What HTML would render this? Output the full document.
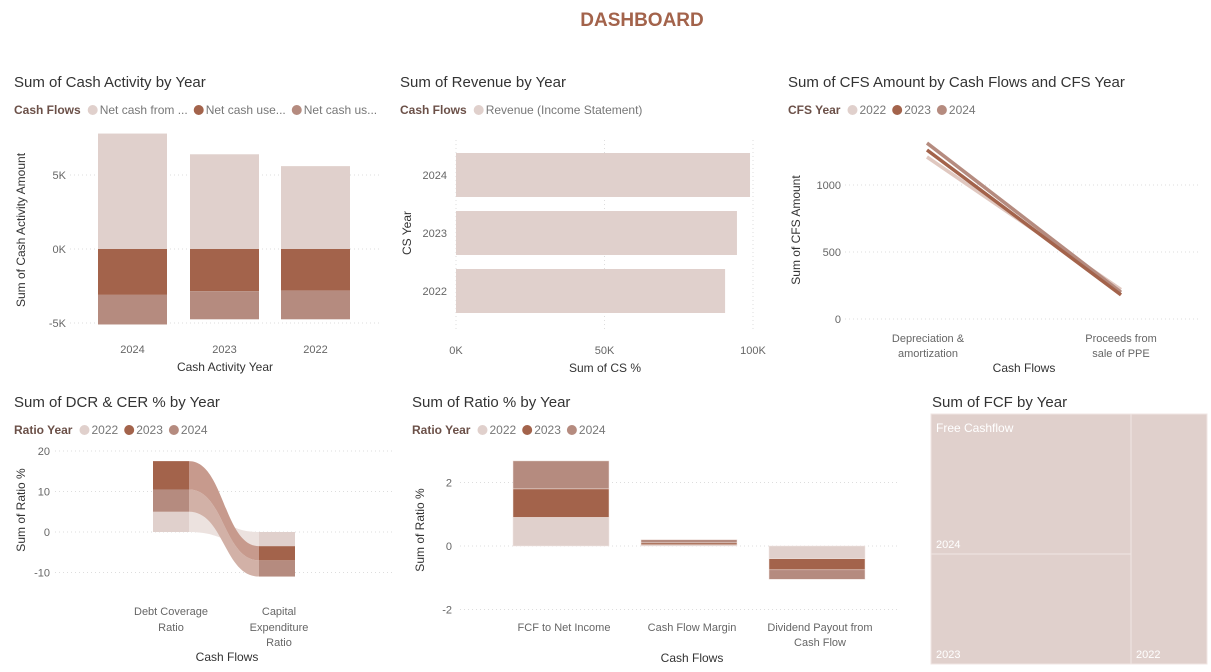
<!DOCTYPE html>
<html><head><meta charset="utf-8">
<style>
body{margin:0;background:#fff;font-family:"Liberation Sans",sans-serif;}
svg text{font-family:"Liberation Sans",sans-serif;}
</style></head>
<body>
<svg id="s" width="1211" height="667" viewBox="0 0 1211 667">
<text x="642" y="26" text-anchor="middle" font-size="19" font-weight="bold" fill="#a3634b">DASHBOARD</text>
</svg>
<script>
const L='#e0d0cc',D='#a3634b',M='#b58b7f';
// Chart 1 data
const c1Years=['2024','2023','2022'];
const c1NetFrom=[7.8,6.4,5.6];
const c1NetUse1=[-3.1,-2.85,-2.8];
const c1NetUse2=[-2.0,-1.9,-1.95];
// Chart 2 data
const c2Years=['2024','2023','2022'];
const c2Revenue=[99,94.6,90.6];
// Chart 3 data
const c3Cats=['Depreciation & amortization','Proceeds from sale of PPE'];
const c3S2022=[1209,220];
const c3S2023=[1261,180];
const c3S2024=[1313,200];
// Chart 4 data
const c4Cats=['Debt Coverage Ratio','Capital Expenditure Ratio'];
const c4S2022=[5,-3.5];
const c4S2023=[7,-3.5];
const c4S2024=[5.5,-4];
// Chart 5 data
const c5Cats=['FCF to Net Income','Cash Flow Margin','Dividend Payout from Cash Flow'];
const c5S2022=[0.9,0.04,-0.4];
const c5S2023=[0.9,0.06,-0.35];
const c5S2024=[0.88,0.1,-0.3];
// Chart 6 data
const c6Years=['2024','2023','2022'];
const c6Values=[28000,22000,19000];

const svg=document.getElementById('s');
const NS='http://www.w3.org/2000/svg';
function el(tag,attrs,parent){const e=document.createElementNS(NS,tag);for(const k in attrs)e.setAttribute(k,attrs[k]);(parent||svg).appendChild(e);return e;}
function txt(x,y,s,size,fill,anchor,parent,weight){const t=el('text',{x:x,y:y,'font-size':size,fill:fill,'text-anchor':anchor||'start'},parent);if(weight)t.setAttribute('font-weight',weight);t.textContent=s;return t;}
function grid(x1,x2,y,g){el('line',{x1:x1,x2:x2,y1:y,y2:y,stroke:'#ddd','stroke-dasharray':'1,3'},g);}
function legend(x,y,title,items,g){const t=txt(x,y,title,12,'#6b5048','start',g,'bold');let cx=x+t.getComputedTextLength()+7;items.forEach(it=>{const c=el('circle',{cx:cx+5,cy:y-4,r:5,fill:it[1]},g);const tt=txt(cx+12,y,it[0],12,'#777','start',g);cx+=12+tt.getComputedTextLength()+6;});}
function group(name){const g=el('g',{});return g;}
function vlabel(x,y,s,g){const t=txt(x,y,s,12,'#333','middle',g);t.setAttribute('transform','rotate(-90 '+x+' '+y+')');return t;}

// ---- Chart 1
(function(){const g=group('cash-activity-chart');
txt(14,87,'Sum of Cash Activity by Year',15,'#333','start',g);
legend(14,114,'Cash Flows',[['Net cash from ...',L],['Net cash use...',D],['Net cash us...',M]],g);
const y=v=>249-v*14.8;const xs=[98,190,281],w=69;
[5,0,-5].forEach(v=>{grid(70,380,y(v),g);txt(66,y(v)+4,v+'K',11,'#666','end',g);});
c1Years.forEach((yr,i)=>{
 let r=el('rect',{x:xs[i],y:y(c1NetFrom[i]),width:w,height:y(0)-y(c1NetFrom[i]),fill:L},g);
 r=el('rect',{x:xs[i],y:y(0),width:w,height:y(c1NetUse1[i])-y(0),fill:D},g);
 const b=c1NetUse1[i]+c1NetUse2[i];
 r=el('rect',{x:xs[i],y:y(c1NetUse1[i]),width:w,height:y(b)-y(c1NetUse1[i]),fill:M},g);
 txt(xs[i]+w/2,353,yr,11,'#666','middle',g);});
txt(225,371,'Cash Activity Year',12,'#333','middle',g);vlabel(25,230,'Sum of Cash Activity Amount',g);
})();

// ---- Chart 2
(function(){const g=group('revenue-chart');
txt(400,87,'Sum of Revenue by Year',15,'#333','start',g);
legend(400,114,'Cash Flows',[['Revenue (Income Statement)',L]],g);
const x=v=>456+v*2.97;const ys=[153,211,269],h=44;
[0,50,100].forEach(v=>{el('line',{x1:x(v),x2:x(v),y1:140,y2:330,stroke:'#ddd','stroke-dasharray':'1,3'},g);txt(x(v),354,v+'K',11,'#666','middle',g);});
c2Years.forEach((yr,i)=>{const r=el('rect',{x:x(0),y:ys[i],width:x(c2Revenue[i])-x(0),height:h,fill:L},g);txt(447,ys[i]+26,yr,11,'#666','end',g);});
txt(605,372,'Sum of CS %',12,'#333','middle',g);vlabel(411,233,'CS Year',g);
})();

// ---- Chart 3
(function(){const g=group('cfs-amount-chart');
txt(788,87,'Sum of CFS Amount by Cash Flows and CFS Year',15,'#333','start',g);
legend(788,114,'CFS Year',[['2022',L],['2023',D],['2024',M]],g);
const y=v=>319-v*0.134;const xs=[927,1121];
[0,500,1000].forEach(v=>{grid(845,1198,y(v),g);txt(841,y(v)+4,v,11,'#666','end',g);});
[[c3S2022,'#e0c8c0','2022'],[c3S2024,M,'2024'],[c3S2023,D,'2023']].forEach(s=>{const l=el('line',{x1:xs[0],y1:y(s[0][0]),x2:xs[1],y2:y(s[0][1]),stroke:s[1],'stroke-width':3.5},g);});
txt(928,342,'Depreciation &',11,'#666','middle',g);txt(928,357,'amortization',11,'#666','middle',g);
txt(1121,342,'Proceeds from',11,'#666','middle',g);txt(1121,357,'sale of PPE',11,'#666','middle',g);
txt(1024,372,'Cash Flows',12,'#333','middle',g);vlabel(800,230,'Sum of CFS Amount',g);
})();

// ---- Chart 4 (ribbon)
(function(){const g=group('dcr-cer-chart');
txt(14,407,'Sum of DCR & CER % by Year',15,'#333','start',g);
legend(14,434,'Ratio Year',[['2022',L],['2023',D],['2024',M]],g);
const y=v=>532-v*4.05;
[20,10,0,-10].forEach(v=>{grid(55,395,y(v),g);txt(50,y(v)+4,v,11,'#666','end',g);});
const years=['2022','2023','2024'],cols={'2022':L,'2023':D,'2024':M},rib={'2022':'#ece2df','2023':'#c79a8d','2024':'#d2b1a7'};
const vals=[[c4S2022[0],c4S2023[0],c4S2024[0]],[c4S2022[1],c4S2023[1],c4S2024[1]]];
const pos=[{},{}];let acc=0;[0,2,1].forEach(k=>{pos[0][k]=[acc,acc+vals[0][k]];acc+=vals[0][k];});
acc=0;[0,1,2].forEach(k=>{pos[1][k]=[acc,acc+vals[1][k]];acc+=vals[1][k];});
const bx=[153,259],bw=36;
[0,2,1].forEach(k=>{const a=pos[0][k],b=pos[1][k];const x1=bx[0]+bw,x2=bx[1],mx=(x1+x2)/2;
 const d='M'+x1+','+y(a[1])+' C'+mx+','+y(a[1])+' '+mx+','+y(b[0])+' '+x2+','+y(b[0])+' L'+x2+','+y(b[1])+' C'+mx+','+y(b[1])+' '+mx+','+y(a[0])+' '+x1+','+y(a[0])+'Z';
 const p=el('path',{d:d,fill:rib[years[k]]},g);});
[0,1].forEach(c=>{[0,1,2].forEach(k=>{const a=pos[c][k];const r=el('rect',{x:bx[c],y:y(Math.max(a[0],a[1])),width:bw,height:Math.abs(y(a[0])-y(a[1])),fill:cols[years[k]]},g);});});
txt(171,615,'Debt Coverage',11,'#666','middle',g);txt(171,631,'Ratio',11,'#666','middle',g);
txt(279,615,'Capital',11,'#666','middle',g);txt(279,631,'Expenditure',11,'#666','middle',g);txt(279,646,'Ratio',11,'#666','middle',g);
txt(227,661,'Cash Flows',12,'#333','middle',g);vlabel(25,510,'Sum of Ratio %',g);
})();

// ---- Chart 5
(function(){const g=group('ratio-chart');
txt(412,407,'Sum of Ratio % by Year',15,'#333','start',g);
legend(412,434,'Ratio Year',[['2022',L],['2023',D],['2024',M]],g);
const y=v=>546-v*31.75;
[2,0,-2].forEach(v=>{grid(460,900,y(v),g);txt(452,y(v)+4,v,11,'#666','end',g);});
const xs=[513,641,769],w=96;
c5Cats.forEach((c,i)=>{let acc=0;[[c5S2022,L,'2022'],[c5S2023,D,'2023'],[c5S2024,M,'2024']].forEach(s=>{const v=s[0][i];const a=acc,b=acc+v;acc=b;const r=el('rect',{x:xs[i],y:y(Math.max(a,b)),width:w,height:Math.abs(y(a)-y(b)),fill:s[1],stroke:'#f2e6e2','stroke-width':0.5},g);});});
txt(564,631,'FCF to Net Income',11,'#666','middle',g);txt(692,631,'Cash Flow Margin',11,'#666','middle',g);
txt(820,631,'Dividend Payout from',11,'#666','middle',g);txt(820,646,'Cash Flow',11,'#666','middle',g);
txt(692,662,'Cash Flows',12,'#333','middle',g);vlabel(424,530,'Sum of Ratio %',g);
})();

// ---- Chart 6 treemap
(function(){const g=group('fcf-treemap');
txt(932,407,'Sum of FCF by Year',15,'#333','start',g);
const X=931,Y=414,W=276,H=250;const tot=c6Values.reduce((a,b)=>a+b,0);
const w1=W*(c6Values[0]+c6Values[1])/tot;const h1=H*c6Values[0]/(c6Values[0]+c6Values[1]);
const tiles=[[X,Y,w1,h1],[X,Y+h1,w1,H-h1],[X+w1,Y,W-w1,H]];
tiles.forEach((t,i)=>{const r=el('rect',{x:t[0],y:t[1],width:t[2],height:t[3],fill:L,stroke:'#f0e6e3','stroke-width':1},g);txt(t[0]+5,t[1]+t[3]-6,c6Years[i],11,'#fff','start',g);});
txt(936,432,'Free Cashflow',12,'#fff','start',g);
})();
</script>
</body></html>
